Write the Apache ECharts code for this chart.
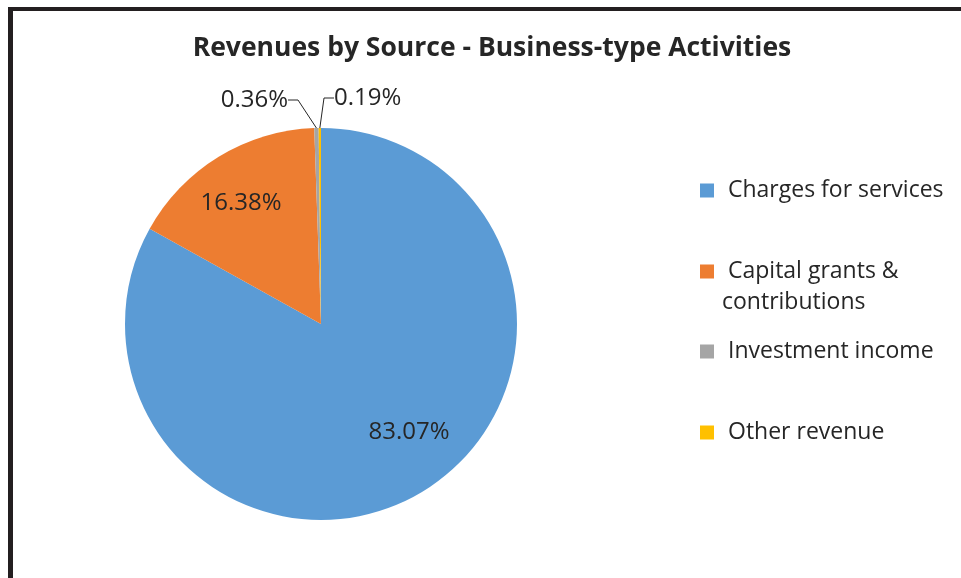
<!DOCTYPE html>
<html>
<head>
<meta charset="utf-8">
<script src="https://cdn.jsdelivr.net/npm/echarts@6/dist/echarts.min.js"></script>
<style>
  html, body { margin: 0; padding: 0; background: #fff; }
  #main { width: 961px; height: 578px; }
</style>
</head>
<body>
<div id="main"></div>
<script>
const categories = ['Charges for services', 'Capital grants &\ncontributions', 'Investment income', 'Other revenue']
const shares = [83.07, 16.38, 0.36, 0.19]
const colors = ['#5B9BD5', '#ED7D31', '#A5A5A5', '#FFC000']

let chart = echarts.init(document.getElementById('main'))

const font = '"Open Sans", sans-serif'
const txt = { fontFamily: font, fontSize: 23, color: '#262626', lineHeight: 31 }

// one legend per entry so each row sits where the original put it
const legendTops = [170, 251, 331, 412]
let legends = categories.map((name, i) => ({
  data: [name],
  orient: 'vertical',
  left: 695,
  top: legendTops[i],
  itemWidth: 14,
  itemHeight: i === 1 ? 45 : 14,
  itemGap: 0,
  // square pinned to the first text line for the two-line entry
  icon: i === 1 ? 'path://M0,0H14V14H0Z M0,45H0.01' : 'rect',
  selectedMode: false,
  formatter: n => {
    if (n.indexOf('\n') < 0) return n
    let parts = n.split('\n')
    return '{a|' + parts[0] + '}\n{b|' + parts[1] + '}'
  },
  textStyle: Object.assign({}, txt, {
    padding: [0, 0, 0, i === 1 ? 3 : 9],
    rich: {
      a: Object.assign({}, txt, { padding: [0, 0, 0, 6] }),
      b: Object.assign({}, txt)
    }
  })
}))

// labels positions (inside for the big slices, outside for the two thin ones)
const labelPos = [
  { x: 409, y: 432, align: 'center' },
  { x: 241, y: 203, align: 'center' },
  { x: 288, y: 100, align: 'right' },
  { x: 334, y: 98, align: 'left' }
]

let option = {
  backgroundColor: '#fff',
  color: colors,
  title: {
    text: 'Revenues by Source - Business-type Activities',
    left: 487,
    textAlign: 'center',
    top: 30,
    textStyle: {
      fontFamily: font,
      fontSize: 26.5,
      fontWeight: 'bold',
      color: '#262626'
    }
  },
  legend: legends,
  graphic: [
    // frame lines (left and top)
    { type: 'rect', shape: { x: 8, y: 7, width: 5, height: 578 }, style: { fill: '#231f20' } },
    { type: 'rect', shape: { x: 8, y: 7, width: 961, height: 4 }, style: { fill: '#231f20' } }
  ],
  series: [
    {
      type: 'pie',
      center: [321, 324],
      radius: 196,
      startAngle: 90,
      clockwise: true,
      avoidLabelOverlap: false,
      itemStyle: { borderWidth: 0 },
      label: {
        show: true,
        fontFamily: font,
        fontSize: 24,
        color: '#262626',
        formatter: p => p.value.toFixed(2) + '%'
      },
      labelLine: {
        show: true,
        length: 10,
        length2: 10,
        lineStyle: { color: '#262626', width: 1 }
      },
      labelLayout: p => labelPos[p.dataIndex],
      data: categories.map((name, i) => ({
        name: name,
        value: shares[i],
        label: { position: i < 2 ? 'inside' : 'outside' },
        labelLine: { show: i >= 2 }
      }))
    }
  ]
}

chart.setOption(option)
</script>
</body>
</html>
